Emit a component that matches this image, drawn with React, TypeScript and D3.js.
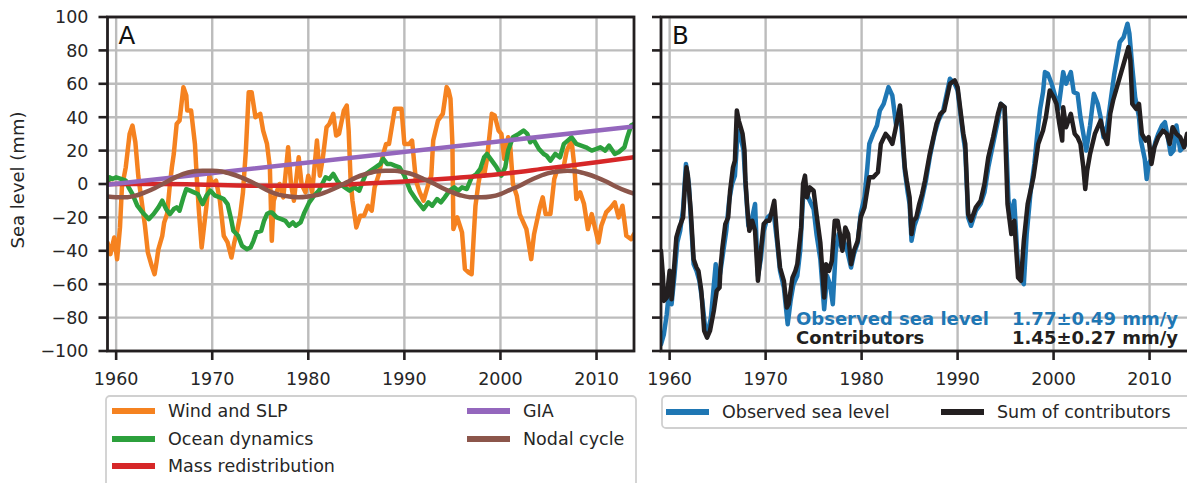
import React from "react";
import * as d3 from "d3";

type P = [number, number];

const xTicks = [1960, 1970, 1980, 1990, 2000, 2010];
const yTicks = [100, 80, 60, 40, 20, 0, -20, -40, -60, -80, -100];

const windSLP: P[] = [
  [1959.1, -35], [1959.4, -42], [1959.8, -32], [1960.1, -45], [1960.4, -26], [1960.6, -2], [1961.0, 10], [1961.4, 30], [1961.7, 35], [1962.0, 25], [1962.3, 5], [1962.6, -8], [1963.0, -25], [1963.3, -41], [1963.7, -49], [1964.0, -54], [1964.2, -47], [1964.4, -39], [1964.8, -31], [1965.0, -23], [1965.3, -18], [1965.6, 0], [1965.8, 10], [1966.0, 18], [1966.3, 36], [1966.6, 38], [1967.0, 58], [1967.3, 53], [1967.4, 44], [1967.8, 44], [1968.2, 24], [1968.4, 3], [1968.6, -15], [1968.9, -38], [1969.1, -28], [1969.4, -13], [1969.7, 5], [1970.0, 0], [1970.4, 2], [1970.8, -10], [1971.2, -31], [1971.6, -35], [1972.0, -44], [1972.3, -35], [1972.6, -28], [1972.9, -19], [1973.2, -5], [1973.5, 20], [1973.8, 55], [1974.1, 55], [1974.5, 40], [1975.0, 42], [1975.3, 32], [1975.7, 24], [1976.0, 10], [1976.2, -34], [1976.4, -10], [1976.7, -5], [1977.0, 0], [1977.4, -8], [1977.9, 22], [1978.2, 0], [1978.5, -10], [1979.0, 16], [1979.3, 0], [1979.7, -5], [1980.0, 5], [1980.4, -5], [1980.9, 26], [1981.2, 5], [1981.5, 15], [1981.9, 34], [1982.2, 36], [1982.6, 42], [1982.9, 29], [1983.2, 30], [1983.7, 44], [1984.0, 47], [1984.2, 32], [1984.4, 3], [1984.6, -10], [1985.0, -26], [1985.4, -19], [1985.8, -19], [1986.2, -13], [1986.6, -16], [1986.9, -2], [1987.3, 5], [1987.8, 18], [1988.1, 24], [1988.4, 24], [1989.0, 45], [1989.7, 45], [1990.0, 24], [1990.5, 24], [1990.8, 26], [1991.2, 2], [1991.6, -5], [1992.0, -10], [1992.5, 0], [1992.8, 5], [1993.0, 26], [1993.5, 38], [1994.0, 42], [1994.4, 58], [1994.6, 56], [1994.8, 51], [1995.0, 24], [1995.1, -27], [1995.5, -20], [1996.0, -29], [1996.3, -51], [1996.7, -53], [1997.0, -54], [1997.2, -33], [1997.4, -13], [1997.7, 0], [1998.0, 10], [1998.3, 5], [1998.6, 15], [1999.1, 42], [1999.4, 41], [1999.8, 32], [2000.1, 30], [2000.4, 15], [2000.8, 28], [2001.0, 24], [2001.3, 0], [2001.7, -7], [2002.0, -18], [2002.7, -27], [2003.2, -45], [2003.5, -30], [2004.1, -14], [2004.4, -8], [2004.7, -18], [2005.2, -18], [2005.6, 3], [2006.0, 10], [2006.5, 8], [2006.9, 20], [2007.4, 26], [2007.7, 10], [2007.9, -9], [2008.3, -5], [2008.7, -12], [2009.1, -27], [2009.5, -18], [2010.2, -35], [2010.5, -25], [2011.0, -17], [2011.5, -14], [2011.9, -11], [2012.3, -20], [2012.7, -13], [2013.1, -31], [2013.6, -33], [2013.9, -30],
];

const oceanDynamics: P[] = [
  [1959.1, 0], [1959.3, 4], [1959.6, 3], [1960.0, 4], [1960.5, 3], [1961.0, 2], [1961.3, -2], [1961.7, -6], [1962.2, -13], [1962.6, -16], [1962.9, -18], [1963.4, -21], [1963.9, -18], [1964.4, -14], [1964.8, -10], [1965.2, -15], [1965.6, -18], [1966.0, -15], [1966.3, -14], [1966.6, -16], [1967.0, -8], [1967.3, -3], [1967.7, -4], [1968.1, -5], [1968.5, -6], [1969.0, -12], [1969.4, -7], [1969.8, -4], [1970.3, -7], [1970.8, -8], [1971.2, -9], [1971.6, -12], [1972.0, -22], [1972.2, -28], [1972.7, -31], [1973.1, -37], [1973.6, -39], [1974.0, -38], [1974.3, -34], [1974.6, -29], [1975.1, -28], [1975.4, -22], [1975.7, -18], [1976.0, -17], [1976.2, -17], [1976.7, -20], [1977.2, -21], [1977.6, -22], [1978.0, -25], [1978.4, -23], [1978.7, -25], [1979.2, -23], [1979.6, -17], [1980.1, -11], [1980.6, -7], [1981.1, -4], [1981.8, 4], [1982.2, 3], [1982.6, 6], [1983.0, 2], [1983.3, 0], [1983.8, -2], [1984.3, -4], [1984.8, -2], [1985.3, -4], [1985.7, 2], [1986.0, 6], [1986.5, 8], [1987.0, 10], [1987.5, 12], [1987.8, 15], [1988.2, 12], [1988.6, 12], [1989.0, 11], [1989.5, 10], [1990.0, 5], [1990.6, -4], [1991.3, -10], [1992.0, -15], [1992.5, -11], [1992.9, -13], [1993.4, -9], [1993.8, -11], [1994.2, -8], [1994.7, -4], [1995.2, -2], [1995.6, -4], [1996.0, -2], [1996.5, -3], [1997.0, 4], [1997.5, 6], [1997.9, 9], [1998.3, 16], [1998.6, 18], [1999.1, 14], [1999.6, 10], [2000.1, 5], [2000.5, 10], [2000.8, 20], [2001.3, 28], [2001.9, 30], [2002.4, 32], [2002.8, 30], [2003.1, 25], [2003.4, 27], [2004.0, 21], [2004.5, 18], [2004.8, 17], [2005.2, 14], [2005.7, 18], [2006.2, 16], [2006.6, 24], [2007.0, 26], [2007.4, 28], [2007.9, 24], [2008.4, 23], [2008.9, 22], [2009.5, 20], [2010.0, 21], [2010.4, 22], [2010.9, 20], [2011.3, 23], [2011.9, 18], [2012.3, 19], [2012.9, 22], [2013.2, 28], [2013.6, 35], [2013.9, 36],
];

const massRedistribution: P[] = [
  [1959.1, 0], [1965, 0], [1970, -0.5], [1975, -1], [1980, -1], [1985, 0], [1990, 1.5], [1995, 3.5], [2000, 6], [2005, 9.5], [2010, 13], [2013.9, 16],
];

const gia: P[] = [[1959.1, -0.5], [2013.9, 34.5]];

const nodalCycle: P[] = [
  [1959, -7.5], [1960, -8], [1961, -8], [1962, -7], [1963, -5], [1964, -2.5], [1965, 0.5], [1966, 3.5], [1967, 6], [1968, 7.5], [1969, 8], [1970, 8], [1971, 7.5], [1972, 6], [1973, 4], [1974, 1.5], [1975, -1.5], [1976, -4.5], [1977, -6.5], [1978, -7.5], [1979, -8], [1980, -7.5], [1981, -6.5], [1982, -4.5], [1983, -2], [1984, 1], [1985, 4], [1986, 6], [1987, 7.5], [1988, 8], [1989, 8], [1990, 7], [1991, 5.5], [1992, 3], [1993, 0.5], [1994, -2.5], [1995, -5], [1996, -7], [1997, -8], [1998, -8], [1999, -7.5], [2000, -6], [2001, -3.5], [2002, -1], [2003, 2], [2004, 4.5], [2005, 6.5], [2006, 7.5], [2007, 8], [2008, 7.5], [2009, 6], [2010, 4], [2011, 1.5], [2012, -1.5], [2013, -4], [2014, -6],
];

const observed: P[] = [
  [1959.1, -96], [1959.4, -90], [1959.7, -78], [1960.0, -60], [1960.2, -72], [1960.5, -55], [1960.8, -35], [1961.1, -28], [1961.4, -15], [1961.7, 12], [1962.0, 0], [1962.2, -20], [1962.5, -48], [1962.8, -52], [1963.1, -58], [1963.4, -70], [1963.7, -86], [1964.0, -88], [1964.3, -80], [1964.8, -48], [1965.0, -62], [1965.3, -52], [1965.6, -40], [1965.9, -28], [1966.2, -10], [1966.5, 0], [1966.8, 5], [1967.1, 32], [1967.4, 28], [1967.7, 20], [1967.9, 0], [1968.2, -25], [1968.6, -20], [1968.9, -12], [1969.2, -55], [1969.5, -45], [1969.8, -28], [1970.2, -20], [1970.6, -18], [1970.9, -20], [1971.2, -35], [1971.5, -52], [1971.9, -62], [1972.3, -84], [1972.6, -70], [1972.9, -60], [1973.3, -55], [1973.6, -40], [1973.9, -8], [1974.2, -5], [1974.6, -10], [1975.0, -15], [1975.3, -30], [1975.7, -45], [1976.1, -75], [1976.4, -55], [1976.7, -60], [1977.0, -72], [1977.3, -40], [1977.6, -30], [1977.9, -38], [1978.2, -35], [1978.5, -40], [1978.9, -50], [1979.2, -42], [1979.6, -35], [1979.9, -18], [1980.3, -8], [1980.6, 10], [1980.8, 24], [1981.2, 30], [1981.6, 35], [1981.9, 44], [1982.3, 48], [1982.8, 58], [1983.2, 53], [1983.6, 35], [1984.0, 45], [1984.2, 30], [1984.5, 8], [1984.8, -5], [1985.0, -12], [1985.2, -34], [1985.5, -25], [1985.8, -20], [1986.1, -14], [1986.4, -6], [1986.7, 2], [1987.1, 16], [1987.6, 30], [1988.0, 38], [1988.5, 44], [1989.2, 63], [1989.7, 60], [1990.0, 56], [1990.3, 42], [1990.6, 28], [1990.8, 20], [1991.1, -20], [1991.4, -25], [1991.9, -16], [1992.4, -12], [1992.8, -5], [1993.2, 10], [1993.7, 24], [1994.2, 38], [1994.5, 48], [1994.9, 46], [1995.1, 20], [1995.3, -10], [1995.6, -20], [1995.9, -10], [1996.3, -50], [1996.6, -56], [1996.9, -60], [1997.2, -30], [1997.6, -5], [1998.0, 12], [1998.3, 30], [1998.6, 45], [1998.9, 55], [1999.1, 67], [1999.4, 66], [1999.8, 60], [2000.2, 52], [2000.5, 45], [2000.8, 58], [2001.0, 67], [2001.3, 60], [2001.8, 67], [2002.1, 55], [2002.5, 54], [2002.8, 40], [2003.1, 30], [2003.4, 20], [2003.8, 35], [2004.2, 54], [2004.6, 48], [2004.9, 40], [2005.2, 28], [2005.6, 35], [2005.9, 48], [2006.3, 65], [2006.6, 75], [2006.9, 85], [2007.3, 88], [2007.7, 96], [2007.9, 90], [2008.2, 70], [2008.5, 52], [2008.9, 40], [2009.1, 26], [2009.5, 15], [2009.7, 3], [2009.9, 12], [2010.2, 15], [2010.6, 25], [2010.9, 30], [2011.3, 35], [2011.6, 37], [2011.9, 28], [2012.2, 18], [2012.5, 20], [2012.8, 35], [2013.2, 20], [2013.5, 22], [2013.9, 25],
];

const contributors: P[] = [
  [1959.1, -40], [1959.3, -55], [1959.4, -70], [1959.7, -68], [1960.0, -52], [1960.2, -69], [1960.4, -55], [1960.7, -32], [1961.0, -26], [1961.4, -20], [1961.6, 0], [1961.75, 10], [1961.9, 5], [1962.2, -16], [1962.5, -45], [1962.8, -50], [1963.0, -52], [1963.3, -64], [1963.6, -88], [1963.9, -92], [1964.2, -88], [1964.6, -76], [1964.9, -64], [1965.2, -62], [1965.3, -50], [1965.5, -38], [1965.8, -24], [1966.1, -20], [1966.3, -4], [1966.6, 10], [1966.8, 14], [1967.0, 44], [1967.2, 38], [1967.4, 34], [1967.6, 30], [1967.8, 20], [1967.9, 2], [1968.1, -15], [1968.3, -28], [1968.6, -22], [1968.9, -28], [1969.2, -58], [1969.5, -40], [1969.8, -24], [1970.1, -22], [1970.4, -22], [1970.7, -15], [1970.9, -10], [1971.2, -32], [1971.5, -50], [1971.9, -58], [1972.2, -74], [1972.4, -72], [1972.5, -68], [1972.8, -56], [1973.1, -52], [1973.3, -48], [1973.7, -26], [1973.9, 0], [1974.1, 5], [1974.3, -8], [1974.6, -2], [1975.0, -4], [1975.3, -18], [1975.7, -35], [1976.1, -68], [1976.3, -48], [1976.6, -52], [1976.9, -46], [1977.2, -22], [1977.5, -22], [1977.8, -32], [1978.0, -40], [1978.3, -26], [1978.6, -30], [1978.9, -48], [1979.2, -40], [1979.6, -34], [1979.9, -20], [1980.3, -14], [1980.8, 4], [1981.2, 4], [1981.7, 7], [1982.0, 24], [1982.5, 30], [1982.8, 28], [1983.2, 24], [1983.5, 32], [1984.0, 47], [1984.2, 35], [1984.5, 10], [1984.7, 2], [1985.0, -8], [1985.2, -30], [1985.4, -22], [1985.7, -20], [1986.0, -12], [1986.3, -6], [1986.6, 2], [1987.1, 18], [1987.8, 36], [1988.2, 42], [1988.6, 44], [1989.2, 60], [1989.7, 62], [1990.0, 58], [1990.3, 44], [1990.6, 30], [1990.8, 24], [1991.1, -18], [1991.4, -22], [1991.9, -14], [1992.4, -10], [1992.8, 0], [1993.2, 16], [1993.7, 28], [1994.2, 42], [1994.5, 48], [1994.9, 46], [1995.0, 24], [1995.2, -12], [1995.6, -30], [1995.9, -22], [1996.3, -56], [1996.6, -58], [1996.9, -34], [1997.3, -12], [1997.9, 4], [1998.4, 24], [1998.9, 32], [1999.2, 40], [1999.6, 56], [2000.0, 52], [2000.3, 48], [2000.6, 36], [2000.9, 26], [2001.0, 46], [2001.3, 34], [2001.8, 42], [2002.2, 30], [2002.5, 28], [2002.8, 24], [2003.1, 10], [2003.3, -3], [2003.5, 8], [2003.8, 18], [2004.3, 30], [2004.9, 38], [2005.2, 30], [2005.6, 24], [2005.9, 42], [2006.2, 50], [2006.6, 58], [2006.9, 64], [2007.3, 72], [2007.8, 82], [2008.0, 74], [2008.2, 48], [2008.6, 45], [2008.9, 48], [2009.2, 30], [2009.6, 26], [2009.9, 28], [2010.2, 12], [2010.5, 22], [2010.9, 28], [2011.4, 32], [2011.8, 30], [2012.1, 24], [2012.4, 34], [2012.8, 30], [2013.2, 28], [2013.6, 22], [2013.9, 30],
];

const seriesA = [
  { name: "Wind and SLP", color: "#f58220", data: windSLP, smooth: false },
  { name: "Ocean dynamics", color: "#2ca03c", data: oceanDynamics, smooth: false },
  { name: "Mass redistribution", color: "#d62728", data: massRedistribution, smooth: true },
  { name: "GIA", color: "#9467bd", data: gia, smooth: false },
  { name: "Nodal cycle", color: "#8c564b", data: nodalCycle, smooth: true },
];
const seriesB = [
  { name: "Observed sea level", color: "#1f77b4", data: observed },
  { name: "Sum of contributors", color: "#231f20", data: contributors },
];

const FONT = "DejaVu Sans, sans-serif";
const TXT = "#262626";
const GRID = "#bcbcbc";
const SPINE = "#231f20";
const TOP = 17;
const BOTTOM = 351;
const TICK_FS = 17.5;
const LEG_FS = 17.5;

const y = d3.scaleLinear().domain([-100, 100]).range([BOTTOM, TOP]);
const xA = d3.scaleLinear().domain([1959.1, 2013.9]).range([107.5, 634]);
const xB = d3.scaleLinear().domain([1959.1, 2013.9]).range([661, 1187]);

function Frame({ x, label }: { x: d3.ScaleLinear<number, number>; label: string }) {
  const [x0, x1] = x.range();
  return (
    <g>
      {yTicks.map((t) => (
        <line key={"gy" + t} x1={x0} x2={x1} y1={y(t)} y2={y(t)} stroke={GRID} strokeWidth={2.4} />
      ))}
      {xTicks.map((t) => (
        <line key={"gx" + t} x1={x(t)} x2={x(t)} y1={TOP} y2={BOTTOM} stroke={GRID} strokeWidth={2.4} />
      ))}
      <text x={x0 + 11} y={44} fontFamily={FONT} fontSize={24.5} fill="#111">{label}</text>
    </g>
  );
}

function Axes({ x, showY, rightSpine }: { x: d3.ScaleLinear<number, number>; showY: boolean; rightSpine: boolean }) {
  const [x0, x1] = x.range();
  const xr = rightSpine ? x1 : x1 + 4;
  return (
    <g>
      <rect x={x0} y={TOP} width={xr - x0} height={BOTTOM - TOP} fill="none" stroke={SPINE} strokeWidth={2.8} />
      {yTicks.map((t) => (
        <g key={"ty" + t}>
          <line x1={x0 - 9} x2={x0} y1={y(t)} y2={y(t)} stroke={SPINE} strokeWidth={2.6} />
          {showY && (
            <text x={x0 - 19} y={y(t)} dy="0.36em" textAnchor="end" fontFamily={FONT} fontSize={TICK_FS} fill={TXT}>
              {t < 0 ? "\u2212" + Math.abs(t) : String(t)}
            </text>
          )}
        </g>
      ))}
      {xTicks.map((t) => (
        <g key={"tx" + t}>
          <line x1={x(t)} x2={x(t)} y1={BOTTOM} y2={BOTTOM + 9} stroke={SPINE} strokeWidth={2.6} />
          <text x={x(t)} y={385} textAnchor="middle" fontFamily={FONT} fontSize={TICK_FS} fill={TXT}>{t}</text>
        </g>
      ))}
    </g>
  );
}

export default function App() {
  const lineA = (smooth: boolean) =>
    d3.line<P>().x((d) => xA(d[0])).y((d) => y(d[1])).curve(smooth ? d3.curveMonotoneX : d3.curveLinear);
  const lineB = d3.line<P>().x((d) => xB(d[0])).y((d) => y(d[1]));
  const legA = [
    { s: seriesA[0], lx: 112, ly: 411 },
    { s: seriesA[1], lx: 112, ly: 439 },
    { s: seriesA[2], lx: 112, ly: 466 },
    { s: seriesA[3], lx: 467, ly: 411 },
    { s: seriesA[4], lx: 467, ly: 439 },
  ];
  const legB = [
    { s: seriesB[0], lx: 666, ly: 412 },
    { s: seriesB[1], lx: 941, ly: 412 },
  ];
  return (
    <svg width={1187} height={483} style={{ position: "absolute", left: 0, top: 0, background: "#fff" }}>
      <defs>
        <clipPath id="clipA"><rect x={107.5} y={TOP} width={526.5} height={BOTTOM - TOP} /></clipPath>
        <clipPath id="clipB"><rect x={661} y={TOP} width={526} height={BOTTOM - TOP} /></clipPath>
      </defs>
      <Frame x={xA} label="A" />
      <Frame x={xB} label="B" />
      <g clipPath="url(#clipA)">
        {seriesA.map((s) => (
          <path key={s.name} d={lineA(s.smooth)(s.data) || ""} fill="none" stroke={s.color} strokeWidth={4.5} strokeLinejoin="round" strokeLinecap="round" />
        ))}
      </g>
      <g clipPath="url(#clipB)">
        {seriesB.map((s) => (
          <path key={s.name} d={lineB(s.data) || ""} fill="none" stroke={s.color} strokeWidth={4.5} strokeLinejoin="round" strokeLinecap="round" />
        ))}
      </g>
      <g fontFamily={FONT} fontWeight="bold" fontSize={18}>
        <text x={796} y={324.5} fill="#1f77b4">Observed sea level</text>
        <text x={1178} y={324.5} fill="#1f77b4" textAnchor="end">1.77±0.49 mm/y</text>
        <text x={796} y={344} fill="#231f20">Contributors</text>
        <text x={1178} y={344} fill="#231f20" textAnchor="end">1.45±0.27 mm/y</text>
      </g>
      <Axes x={xA} showY rightSpine />
      <Axes x={xB} showY={false} rightSpine={false} />
      <text transform={`translate(24,180) rotate(-90)`} textAnchor="middle" fontFamily={FONT} fontSize={18} fill={TXT}>Sea level (mm)</text>
      <rect x={106} y={396} width={530} height={100} rx={4} fill="#fff" stroke="#d0d0d0" strokeWidth={1.8} />
      {legA.map(({ s, lx, ly }) => (
        <g key={s.name}>
          <line x1={lx} x2={lx + 43} y1={ly} y2={ly} stroke={s.color} strokeWidth={6} />
          <text x={lx + 56} y={ly} dy="0.36em" fontFamily={FONT} fontSize={LEG_FS} fill={TXT}>{s.name}</text>
        </g>
      ))}
      <rect x={662} y={396} width={530} height={32} rx={4} fill="#fff" stroke="#d0d0d0" strokeWidth={1.8} />
      {legB.map(({ s, lx, ly }) => (
        <g key={s.name}>
          <line x1={lx} x2={lx + 43} y1={ly} y2={ly} stroke={s.color} strokeWidth={6} />
          <text x={lx + 56} y={ly} dy="0.36em" fontFamily={FONT} fontSize={LEG_FS} fill={TXT}>{s.name}</text>
        </g>
      ))}
    </svg>
  );
}
